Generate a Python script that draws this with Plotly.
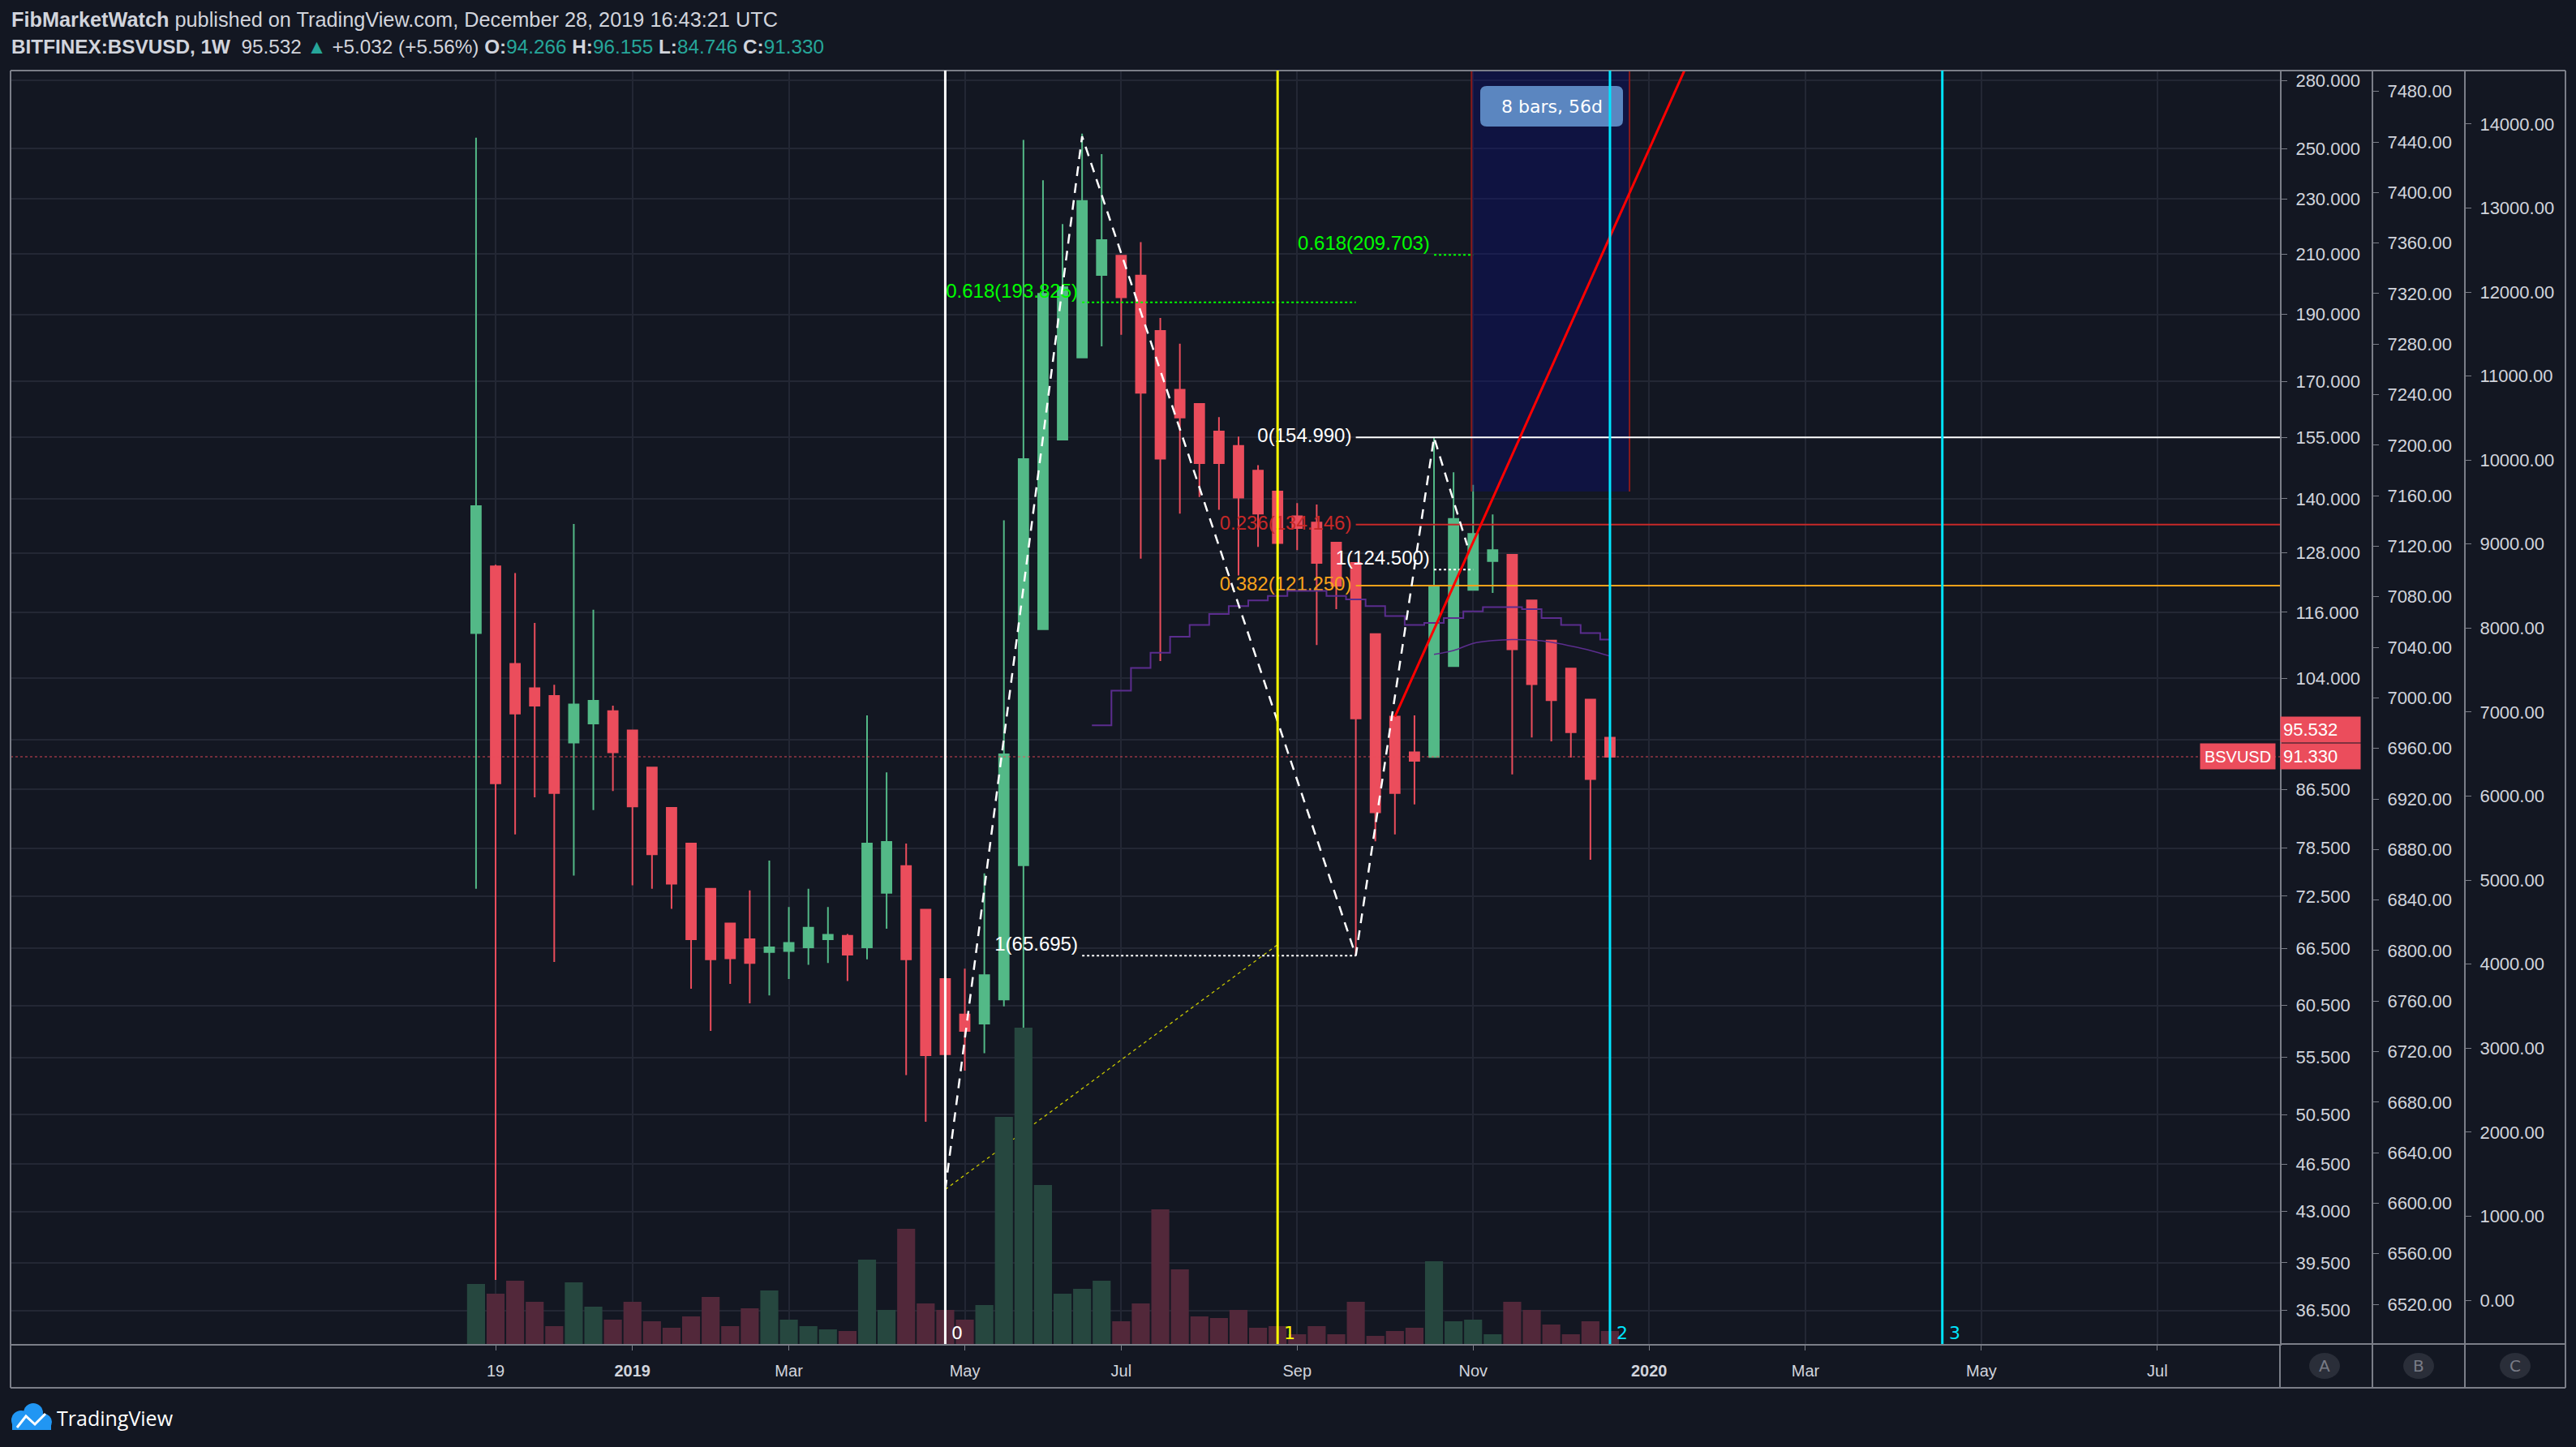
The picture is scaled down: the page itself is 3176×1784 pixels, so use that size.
"""BSV/USD weekly chart with fib drawings, TradingView dark style."""

import math

import pandas as pd
import plotly.graph_objects as go

# ---- data -------------------------------------------------------------
FIRST_WEEK = pd.Timestamp("2018-11-12")

opens = [112.1, 125.2, 106.5, 102.3, 101.0, 93.5, 96.5, 98.5, 95.4, 89.7,
         83.9, 79.1, 73.4, 69.3, 67.5, 66.1, 66.2, 66.6, 67.5, 67.9,
         66.6, 72.9, 76.2, 70.9, 63.2, 59.6, 58.7, 61.1, 76.3, 112.8,
         154.4, 176.9, 202.8, 209.4, 202.6, 184.9, 167.7, 163.8, 156.5, 152.8,
         146.7, 141.7, 136.0, 134.6, 130.2, 125.9, 111.9, 97.6, 92.0, 91.3,
         106.1, 120.4, 126.3, 127.6, 118.3, 110.7, 105.7, 100.4, 94.266]
highs = [254.6, 125.5, 123.8, 114.0, 102.9, 134.3, 116.5, 99.4, 95.4, 89.7,
         83.9, 79.1, 73.4, 69.3, 73.2, 76.9, 71.2, 73.4, 71.2, 68.1,
         97.8, 89.0, 79.1, 70.9, 63.2, 64.3, 75.3, 135.1, 253.7, 237.3,
         220.7, 256.3, 247.8, 209.4, 214.2, 188.9, 181.0, 163.8, 160.3, 155.2,
         148.0, 141.7, 139.0, 138.7, 130.2, 125.9, 111.9, 97.6, 97.8, 154.99,
         146.3, 143.3, 136.4, 127.6, 118.3, 110.7, 105.7, 100.4, 96.155]
lows = [73.4, 38.4, 80.3, 85.4, 65.0, 75.0, 83.6, 86.3, 73.8, 73.4,
        71.0, 62.2, 58.0, 62.7, 60.7, 61.5, 63.2, 64.7, 64.9, 63.0,
        65.3, 68.7, 53.9, 49.9, 53.9, 54.3, 55.9, 60.4, 44.6, 112.8,
        154.4, 176.9, 180.2, 183.7, 126.8, 107.0, 136.6, 140.4, 137.5, 123.3,
        129.3, 121.2, 128.6, 109.9, 116.6, 65.695, 79.4, 80.3, 84.4, 91.3,
        106.1, 120.4, 119.8, 88.7, 94.3, 93.7, 91.2, 77.0, 84.746]
closes = [138.3, 87.4, 98.1, 99.4, 86.0, 99.6, 100.2, 92.0, 84.1, 77.7,
          74.0, 67.5, 65.3, 65.4, 64.9, 66.6, 67.1, 68.8, 68.0, 65.8,
          79.1, 79.3, 65.3, 55.7, 55.8, 58.0, 63.6, 91.7, 149.5, 196.6,
          198.8, 229.3, 214.9, 195.5, 166.9, 149.6, 160.2, 148.5, 148.5, 140.3,
          136.6, 130.1, 133.4, 125.9, 121.2, 97.3, 83.3, 86.0, 90.7, 121.1,
          135.4, 132.1, 128.6, 109.1, 103.0, 100.3, 95.1, 88.0, 91.33]
volumes_k = [74, 62, 78, 52, 22, 76, 46, 30, 52, 28,
             20, 34, 58, 22, 44, 66, 30, 22, 18, 16,
             104, 42, 142, 50, 42, 30, 48, 280, 390, 196,
             62, 68, 78, 28, 50, 166, 92, 34, 32, 42,
             20, 22, 12, 22, 12, 52, 10, 16, 20, 102,
             28, 30, 12, 52, 42, 24, 12, 28, 16]

# stepped overlay (from bar 32) and smooth overlay (from bar 49)
step_start = 32
step_values = [96.2, 101.9, 105.8, 108.5, 111.4, 113.6, 115.7, 117.2, 118.3, 119.2,
               120.2, 120.2, 119.2, 118.5, 117.2, 115.3, 113.6, 114.0, 114.9, 116.2,
               117.0, 117.0, 116.6, 114.9, 113.6, 112.1, 110.9]
curve_start = 49
curve_values = [108.2, 108.9, 110.2, 110.7, 110.9, 110.8, 110.4, 109.7, 108.9, 107.9]

# drawings (bar offsets in weeks from FIRST_WEEK, prices)
zigzag_bars = [24, 31, 45, 49, 50.7]
zigzag_prices = [44.6, 255.2, 65.695, 154.99, 129.6]
trend_bars = [24, 41]
trend_prices = [44.6, 66.9]
ray_bars = [47, 62.54]
ray_prices = [97.6, 300]
cycle_bars = [24, 41, 58, 75]
cycle_labels = ["0", "1", "2", "3"]
range_box_bars = [50.92, 59.0]
range_box_low = 141.7

# fib levels: label, price, start bar, end bar (None = extend right), colour, dash, label pos
fib_levels = [
    ("0.618(193.825)", 193.825, 31, 45, "#00ff00", "dot", "top left"),
    ("1(65.695)", 65.695, 31, 45, "#ffffff", "dot", "top left"),
    ("0.618(209.703)", 209.703, 49, 51, "#00ff00", "dot", "top left"),
    ("1(124.500)", 124.5, 49, 51, "#ffffff", "dot", "top left"),
    ("0(154.990)", 154.99, 45, None, "#ffffff", "solid", "middle left"),
    ("0.236(134.146)", 134.146, 45, None, "#c62828", "solid", "middle left"),
    ("0.382(121.250)", 121.25, 45, None, "#f7a21b", "solid", "middle left"),
]

price_ticks = [280, 250, 230, 210, 190, 170, 155, 140, 128, 116, 104, 94,
               86.5, 78.5, 72.5, 66.5, 60.5, 55.5, 50.5, 46.5, 43, 39.5, 36.5]
hidden_price_ticks = [94]  # covered by the last-price labels
axis_b_ticks = list(range(6520, 7481, 40))
axis_c_ticks = list(range(0, 14001, 1000))
date_ticks = ["2018-11-19", "2019-01-07", "2019-03-04", "2019-05-06", "2019-07-01",
              "2019-09-02", "2019-11-04", "2020-01-06", "2020-03-02", "2020-05-04",
              "2020-07-06"]
date_tick_text = ["19", "<b>2019</b>", "Mar", "May", "Jul", "Sep", "Nov", "<b>2020</b>",
                  "Mar", "May", "Jul"]

last_price = 95.532

# ---- style ------------------------------------------------------------
BG = "#131722"
GRID = "#232734"
AXIS = "#7b7e88"
TEXT = "#d1d4dc"
UP = "#53b987"
DOWN = "#eb4d5c"
VOL_UP = "#26473f"
VOL_DOWN = "#52283a"
TEAL = "#26a69a"
FONT = "Liberation Sans"

W, H = 3176, 1784
ML, MR, MT, MB = 13, 13, 87, 127
PW, PH = W - ML - MR, H - MT - MB


def px(x):
    return (x - ML) / PW


def py(y):
    return (H - MB - y) / PH


def week(n):
    return FIRST_WEEK + pd.Timedelta(days=7 * n)


dates = [week(i) for i in range(len(opens))]
x_start, x_end = week(-23.81), week(92.27)

fig = go.Figure()

# volume
vol_colors = [VOL_UP if c >= o else VOL_DOWN for o, c in zip(opens, closes)]
fig.add_trace(go.Bar(x=dates, y=volumes_k, marker_color=vol_colors, marker_line_width=0,
                     yaxis="y3", hoverinfo="skip"))

# date range box
bx0, bx1 = week(range_box_bars[0]), week(range_box_bars[1])
fig.add_trace(go.Scatter(x=[bx0, bx1, bx1, bx0, bx0],
                         y=[range_box_low, range_box_low, 400, 400, range_box_low],
                         fill="toself", fillcolor="rgba(9,13,131,0.32)", mode="lines",
                         line=dict(width=0), hoverinfo="skip"))
for bx in (bx0, bx1):
    fig.add_trace(go.Scatter(x=[bx, bx], y=[range_box_low, 400], mode="lines",
                             line=dict(color="#8b1a1a", width=2), hoverinfo="skip"))

# current price line
fig.add_trace(go.Scatter(x=[x_start, x_end], y=[closes[-1], closes[-1]], mode="lines",
                         line=dict(color="rgba(235,77,92,0.6)", width=1.5, dash="dot"),
                         hoverinfo="skip"))

# fib lines and labels
for label, level, b0, b1, color, dash, pos in fib_levels:
    x1 = x_end if b1 is None else week(b1)
    fig.add_trace(go.Scatter(x=[week(b0), x1], y=[level, level], mode="lines",
                             line=dict(color=color, width=2 if dash == "dot" else 1.8, dash=dash),
                             hoverinfo="skip"))
    fig.add_trace(go.Scatter(x=[week(b0) - pd.Timedelta(days=1.5)], y=[level], mode="text",
                             text=[label], textposition=pos,
                             textfont=dict(family=FONT, size=24, color=color),
                             hoverinfo="skip"))

# candles
fig.add_trace(go.Candlestick(
    x=dates, open=opens, high=highs, low=lows, close=closes,
    increasing=dict(line=dict(color=UP, width=2), fillcolor=UP),
    decreasing=dict(line=dict(color=DOWN, width=2), fillcolor=DOWN),
    whiskerwidth=0, hoverinfo="skip",
))

# overlays
step_x = [week(step_start + i - 0.5) for i in range(len(step_values))]
step_x.append(week(step_start + len(step_values) - 1))
fig.add_trace(go.Scatter(x=step_x, y=step_values + [step_values[-1]], mode="lines",
                         line=dict(color="#5b2d8e", width=2, shape="hv"), hoverinfo="skip"))
fig.add_trace(go.Scatter(x=[week(curve_start + i) for i in range(len(curve_values))],
                         y=curve_values, mode="lines",
                         line=dict(color="#5b2d8e", width=1.5, shape="spline"), hoverinfo="skip"))

# drawings on top
fig.add_trace(go.Scatter(x=[week(b) for b in trend_bars], y=trend_prices, mode="lines",
                         line=dict(color="#c8c800", width=1.3, dash="4px,4px"), hoverinfo="skip"))
fig.add_trace(go.Scatter(x=[week(b) for b in zigzag_bars], y=zigzag_prices, mode="lines",
                         line=dict(color="#ffffff", width=2.5, dash="12px,9px"), hoverinfo="skip"))
fig.add_trace(go.Scatter(x=[week(b) for b in ray_bars], y=ray_prices, mode="lines",
                         line=dict(color="#ff0000", width=3), hoverinfo="skip"))

# empty series so the two extra price scales get drawn
for axis_name in ("y4", "y5"):
    fig.add_trace(go.Scatter(x=[dates[0]], y=[None], yaxis=axis_name, mode="lines",
                             hoverinfo="skip"))

shapes = []


def paper_line(x0, y0, x1, y1, color=AXIS, width=2):
    shapes.append(dict(type="line", xref="paper", yref="paper", x0=px(x0), y0=py(y0),
                       x1=px(x1), y1=py(y1), line=dict(color=color, width=width), layer="above"))


# frame of the chart and the price-scale footer
paper_line(13, 87, 3163, 87)
paper_line(13, 87, 13, 1711)
paper_line(3163, 87, 3163, 1711)
paper_line(2811, 1657, 3163, 1657)
paper_line(13, 1711, 3163, 1711)
for xv in (2811, 2925, 3039):
    paper_line(xv, 1657, xv, 1711)
scale_buttons = ((2866, "A"), (2982, "B"), (3101, "C"))
for cx, letter in scale_buttons:
    shapes.append(dict(type="circle", xref="paper", yref="paper", x0=px(cx - 19), x1=px(cx + 19),
                       y0=py(1700), y1=py(1668), fillcolor="#2a2e39", line=dict(width=0),
                       layer="above"))


def rounded_rect(x0, y0, x1, y1, r):
    pts = [("M", x0 + r, y0), ("L", x1 - r, y0), ("Q", x1, y0, x1, y0 + r),
           ("L", x1, y1 - r), ("Q", x1, y1, x1 - r, y1), ("L", x0 + r, y1),
           ("Q", x0, y1, x0, y1 - r), ("L", x0, y0 + r), ("Q", x0, y0, x0 + r, y0)]
    out = []
    for p in pts:
        if p[0] == "Q":
            out.append(f"Q{px(p[1])},{py(p[2])} {px(p[3])},{py(p[4])}")
        else:
            out.append(f"{p[0]}{px(p[1])},{py(p[2])}")
    return " ".join(out) + " Z"


shapes.append(dict(type="path", xref="paper", yref="paper", path=rounded_rect(1825, 106, 2001, 156, 8),
                   fillcolor="#5b86c0", line=dict(width=0), layer="above"))

# cycle lines
cycle_colors = ["#ffffff", "#ffff00", "#00e5ff", "#00e5ff"]
for b, color in zip(cycle_bars, cycle_colors):
    shapes.append(dict(type="line", xref="x", yref="paper", x0=str(week(b)), x1=str(week(b)),
                       y0=0, y1=1, line=dict(color=color, width=3), layer="above"))

# TradingView logo (simple cloud)
for cx, cy, r in ((26, 1751, 12), (41, 1742, 12), (54, 1753, 10)):
    shapes.append(dict(type="circle", xref="paper", yref="paper", x0=px(cx - r), x1=px(cx + r),
                       y0=py(cy + r), y1=py(cy - r), fillcolor="#2196f3", line=dict(width=0),
                       layer="above"))
shapes.append(dict(type="rect", xref="paper", yref="paper", x0=px(15), x1=px(63), y0=py(1763),
                   y1=py(1751), fillcolor="#2196f3", line=dict(width=0), layer="above"))
shapes.append(dict(type="path", xref="paper", yref="paper",
                   path=f"M{px(21)},{py(1760)} L{px(32)},{py(1746)} L{px(43)},{py(1756)} L{px(56)},{py(1743)}",
                   line=dict(color="#ffffff", width=3), layer="above"))

annotations = []


def note(x, y, text, size, color=TEXT, family=FONT, xanchor="left", **kw):
    annotations.append(dict(xref=kw.pop("xref", "paper"), yref=kw.pop("yref", "paper"), x=x, y=y,
                            xanchor=xanchor, yanchor="middle", showarrow=False, text=text,
                            font=dict(family=family, size=size, color=color), **kw))


note(px(12), py(24),
     "<b>FibMarketWatch</b> published on TradingView.com, December 28, 2019 16:43:21 UTC", 25.3)
note(px(12), py(57),
     (f"<b>BITFINEX:BSVUSD, 1W</b>  {last_price:.3f} <span style='color:{TEAL}'>▲</span> "
      f"+5.032 (+5.56%) <b>O:</b><span style='color:{TEAL}'>{opens[-1]:.3f}</span> "
      f"<b>H:</b><span style='color:{TEAL}'>{highs[-1]:.3f}</span> "
      f"<b>L:</b><span style='color:{TEAL}'>{lows[-1]:.3f}</span> "
      f"<b>C:</b><span style='color:{TEAL}'>{closes[-1]:.3f}</span>"), 24.3)
note(px(1913), py(131), "8 bars, 56d", 22, color="#ffffff", family="DejaVu Sans", xanchor="center")

# price scale labels
for value in (last_price, closes[-1]):
    note(px(2811), math.log10(value), f"{value:.3f}", 22, color="#ffffff", yref="y",
         bgcolor=DOWN, width=92, height=25, align="left", borderpad=3)
note(px(2806), math.log10(closes[-1]), "BSVUSD", 20, color="#ffffff", xanchor="right", yref="y",
     bgcolor=DOWN, width=86, height=25, borderpad=3)

for b, lab, color in zip(cycle_bars, cycle_labels, cycle_colors):
    note(str(week(b)), py(1643), lab, 22, color=color, family="DejaVu Sans", xref="x", xshift=6)

for cx, letter in scale_buttons:
    note(px(cx), py(1684), letter, 20, color="#787b86", family="DejaVu Sans", xanchor="center")
note(px(68), py(1748), "TradingView", 25, color="#ffffff", family="Open Sans")

X_END = px(2811)
axis_common = dict(ticks="outside", ticklen=7, tickcolor=AXIS, showline=True, linecolor=AXIS,
                   linewidth=2, zeroline=False, tickfont=dict(family=FONT, size=22, color=TEXT),
                   ticklabelstandoff=6)

fig.update_layout(
    width=W, height=H,
    paper_bgcolor=BG, plot_bgcolor=BG,
    margin=dict(l=ML, r=MR, t=MT, b=MB),
    showlegend=False, bargap=0.08, boxgap=0.3,
    font=dict(family=FONT, size=22, color=TEXT),
    hovermode=False,
    xaxis=dict(domain=[0, X_END], type="date", range=[x_start, x_end],
               rangeslider=dict(visible=False), tickvals=date_ticks, ticktext=date_tick_text,
               ticks="outside", ticklen=6, tickcolor=AXIS, showline=True, linecolor=AXIS,
               linewidth=2, showgrid=True, gridcolor=GRID, gridwidth=1.5, zeroline=False,
               tickfont=dict(family=FONT, size=20, color=TEXT), ticklabelstandoff=8),
    yaxis=dict(type="log", side="right", anchor="x",
               range=[math.log10(34.53), math.log10(284.55)],
               tickvals=price_ticks,
               ticktext=["" if v in hidden_price_ticks else f"{v:.3f}" for v in price_ticks],
               showgrid=True, gridcolor=GRID, gridwidth=1.5, **axis_common),
    yaxis3=dict(overlaying="y", range=[0, PH], visible=False),
    yaxis4=dict(overlaying="y", anchor="free", side="right", position=px(2925),
                range=[6488.6, 7496.5], tickvals=axis_b_ticks,
                ticktext=[f"{v:.2f}" for v in axis_b_ticks], showgrid=False, **axis_common),
    yaxis5=dict(overlaying="y", anchor="free", side="right", position=px(3039),
                range=[-521, 14636], tickvals=axis_c_ticks,
                ticktext=[f"{v:.2f}" for v in axis_c_ticks], showgrid=False, **axis_common),
    shapes=shapes,
    annotations=annotations,
)

fig.write_html("out.html", config={"displayModeBar": False},
               post_script="document.body.style.margin='0';")
